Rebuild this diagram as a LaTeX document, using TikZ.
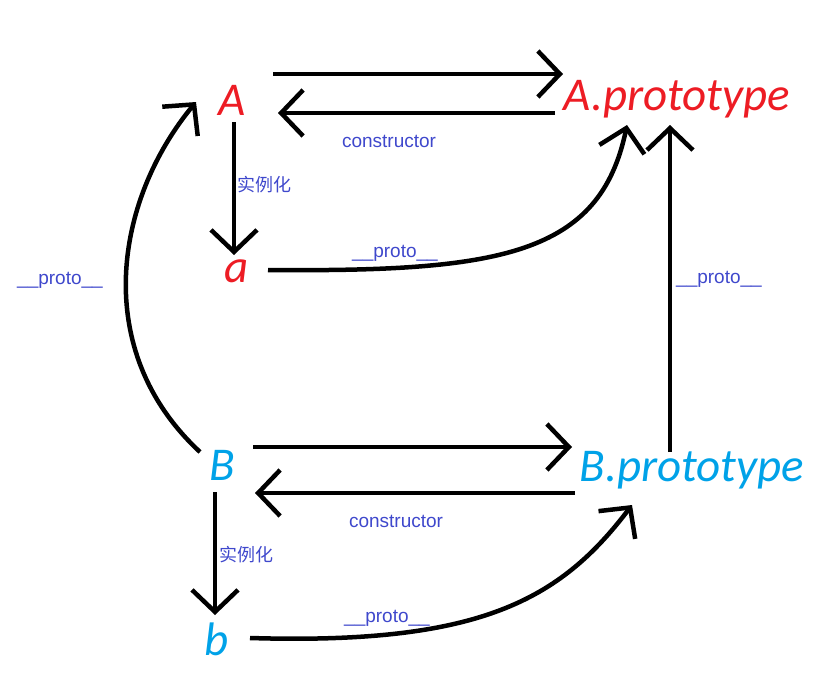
\documentclass[tikz,border=0pt]{standalone}
\usepackage{fontspec}
\setmainfont{Liberation Sans}
\newfontfamily\namefont{Carlito}
\newfontfamily\cjkfont{Noto Sans CJK SC}
\usetikzlibrary{arrows.meta,calc}

\definecolor{namered}{RGB}{237,28,36}
\definecolor{nameblue}{RGB}{0,162,232}
\definecolor{labelblue}{RGB}{63,72,204}

\begin{document}
\begin{tikzpicture}[x=1pt, y=-1pt,
  obj/.style={text=#1, font=\namefont\itshape\fontsize{47}{47}\selectfont, inner sep=0pt, anchor=base},
  lbl/.style={text=labelblue, font=\fontsize{19}{19}\selectfont, inner sep=0pt},
  cjklbl/.style={text=labelblue, font=\cjkfont\fontsize{18}{18}\selectfont, inner sep=0pt},
  arr/.style={-{Straight Barb[length=22pt, width=46pt]}, line width=4.5pt}
]
  \useasboundingbox (0,0) rectangle (835,693);

  % constructors and their prototypes
  \node[obj=namered]  (A)      at (232,115) {A};
  \node[obj=namered]  (Aproto) at (677,110) {A.prototype};
  \node[obj=namered]  (a)      at (237,282) {a};
  \node[obj=nameblue] (B)      at (222,480) {B};
  \node[obj=nameblue] (Bproto) at (692,481) {B.prototype};
  \node[obj=nameblue] (b)      at (217,655) {b};

  % labels
  \node[lbl]    (ctorA)  at (389,141) {constructor};
  \node[cjklbl] (newA)   at (264,185) {实例化};
  \node[lbl]    (protoa) at (395,253) {\_\_proto\_\_};
  \node[lbl]    (protoB) at (60,280)  {\_\_proto\_\_};
  \node[lbl]    (protoP) at (719,279) {\_\_proto\_\_};
  \node[lbl]    (ctorB)  at (396,521) {constructor};
  \node[cjklbl] (newB)   at (246,555) {实例化};
  \node[lbl]    (protob) at (387,618) {\_\_proto\_\_};

  % A side
  \draw[arr] ($(A.base)+(41,-41)$) -- ($(Aproto.base)+(-114,-36)$);
  \draw[arr] ($(Aproto.base)+(-122,3)$) -- ($(A.base)+(46,-2)$);
  \draw[arr] ($(A.base)+(2,7)$) -- ($(a.base)+(-3,-27)$);
  \draw[arr] ($(a.base)+(31,-12)$) .. controls +(232,2) and +(-27,130) .. ($(Aproto.base)+(-50,15)$);

  % B side
  \draw[arr] ($(B.base)+(31,-33)$) -- ($(Bproto.base)+(-120,-34)$);
  \draw[arr] ($(Bproto.base)+(-117,12)$) -- ($(B.base)+(33,13)$);
  \draw[arr] ($(B.base)+(-7,12)$) -- ($(b.base)+(-2,-40)$);
  \draw[arr] ($(b.base)+(33,-17)$) .. controls +(230,7) and +(-72,95) .. ($(Bproto.base)+(-60,24)$);

  % B to A
  \draw[arr] ($(Bproto.base)+(-22,-29)$) -- ($(Aproto.base)+(-7,15)$);
  \draw[arr] ($(B.base)+(-22,-28)$) .. controls +(-110,-102) and +(-81,98) .. ($(A.base)+(-36,-13)$);
\end{tikzpicture}
\end{document}
